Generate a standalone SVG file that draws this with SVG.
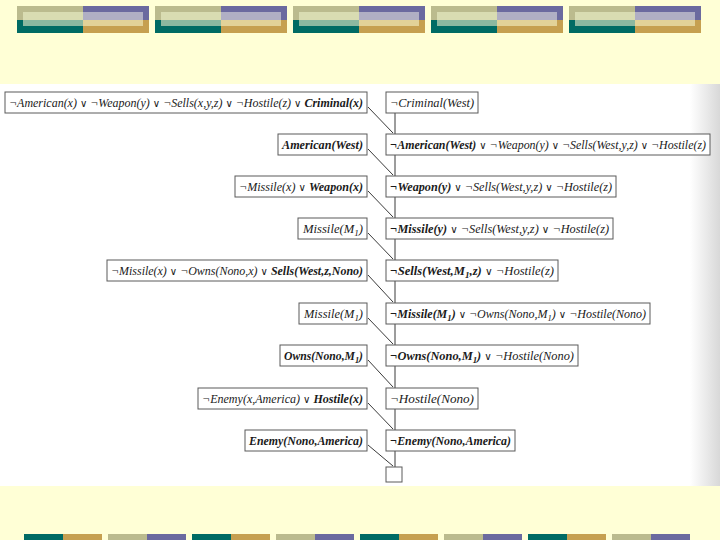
<svg xmlns="http://www.w3.org/2000/svg" width="720" height="540" viewBox="0 0 720 540">
<defs>
<style>
.box{fill:#ffffff;stroke:#5a5a5a;stroke-width:1}
.t{font-family:"Liberation Serif","Times New Roman",serif;font-style:italic;font-size:12.5px;fill:#1a1a1a}
.b{font-weight:bold}
.s{font-size:9px}
.o{font-family:"DejaVu Serif",serif;font-style:normal;font-weight:normal;font-size:10.5px}
.ln{stroke:#3a3a3a;stroke-width:1;fill:none}
</style>
<linearGradient id="edge" x1="0" y1="0" x2="1" y2="0">
<stop offset="0" stop-color="#ffffff"/>
<stop offset="1" stop-color="#d8d8d8"/>
</linearGradient>
<g id="topblk">
<rect x="0" y="0" width="66" height="14" fill="#bbbb8e"/>
<rect x="0" y="14" width="66" height="13" fill="#006b64"/>
<rect x="66" y="0" width="66" height="14" fill="#6b6a9f"/>
<rect x="66" y="14" width="66" height="13" fill="#c6a050"/>
<rect x="6" y="6" width="60" height="8" fill="#d9dcb2"/>
<rect x="6" y="14" width="60" height="6" fill="#8cb8a0"/>
<rect x="66" y="6" width="60" height="8" fill="#b0afc4"/>
<rect x="66" y="14" width="60" height="6" fill="#e2d298"/>
</g>
<g id="botA"><rect x="0" y="0" width="39" height="6" fill="#006b64"/><rect x="39" y="0" width="39" height="6" fill="#c6a050"/></g>
<g id="botB"><rect x="0" y="0" width="39" height="6" fill="#bbbb8e"/><rect x="39" y="0" width="39" height="6" fill="#6b6a9f"/></g>
</defs>
<rect width="720" height="540" fill="#ffffd6"/>
<g id="banner-top">
<use href="#topblk" x="17" y="6"/>
<use href="#topblk" x="155" y="6"/>
<use href="#topblk" x="293" y="6"/>
<use href="#topblk" x="431" y="6"/>
<use href="#topblk" x="569" y="6"/>
</g>
<g id="banner-bottom">
<use href="#botA" x="24" y="534"/>
<use href="#botB" x="108" y="534"/>
<use href="#botA" x="192" y="534"/>
<use href="#botB" x="276" y="534"/>
<use href="#botA" x="360" y="534"/>
<use href="#botB" x="444" y="534"/>
<use href="#botA" x="528" y="534"/>
<use href="#botB" x="612" y="534"/>
</g>
<rect x="0" y="84" width="720" height="402" fill="#ffffff"/>
<rect x="690" y="84" width="30" height="402" fill="url(#edge)"/>

<g id="connectors">
<line class="ln" x1="395" y1="113" x2="395" y2="134"/>
<line class="ln" x1="395" y1="155" x2="395" y2="176"/>
<line class="ln" x1="395" y1="197" x2="395" y2="218"/>
<line class="ln" x1="395" y1="239" x2="395" y2="260"/>
<line class="ln" x1="395" y1="281" x2="395" y2="303"/>
<line class="ln" x1="395" y1="324" x2="395" y2="345"/>
<line class="ln" x1="395" y1="366" x2="395" y2="388"/>
<line class="ln" x1="395" y1="409" x2="395" y2="430"/>
<line class="ln" x1="395" y1="451" x2="395" y2="467"/>
<line class="ln" x1="368" y1="107" x2="393" y2="133"/>
<line class="ln" x1="368" y1="149" x2="393" y2="175"/>
<line class="ln" x1="368" y1="191" x2="393" y2="217"/>
<line class="ln" x1="368" y1="233" x2="393" y2="259"/>
<line class="ln" x1="368" y1="275" x2="393" y2="302"/>
<line class="ln" x1="368" y1="318" x2="393" y2="344"/>
<line class="ln" x1="368" y1="360" x2="393" y2="387"/>
<line class="ln" x1="368" y1="403" x2="393" y2="429"/>
<line class="ln" x1="368" y1="445" x2="393" y2="466"/>
</g>

<g id="L0"><rect class="box" x="5" y="92" width="362" height="21"/>
<text class="t" x="9" y="107" textLength="354" lengthAdjust="spacingAndGlyphs">¬American(x) <tspan class="o">∨</tspan> ¬Weapon(y) <tspan class="o">∨</tspan> ¬Sells(x,y,z) <tspan class="o">∨</tspan> ¬Hostile(z) <tspan class="o">∨</tspan> <tspan class="b">Criminal(x)</tspan></text></g>
<g id="R0"><rect class="box" x="386" y="92" width="92" height="21"/>
<text class="t" x="390" y="107" textLength="84" lengthAdjust="spacingAndGlyphs">¬Criminal(West)</text></g>

<g id="L1"><rect class="box" x="278" y="134" width="89" height="21"/>
<text class="t b" x="282" y="149" textLength="81" lengthAdjust="spacingAndGlyphs">American(West)</text></g>
<g id="R1"><rect class="box" x="386" y="134" width="324" height="21"/>
<text class="t" x="390" y="149" textLength="316" lengthAdjust="spacingAndGlyphs"><tspan class="b">¬American(West)</tspan> <tspan class="o">∨</tspan> ¬Weapon(y) <tspan class="o">∨</tspan> ¬Sells(West,y,z) <tspan class="o">∨</tspan> ¬Hostile(z)</text></g>

<g id="L2"><rect class="box" x="235" y="176" width="132" height="21"/>
<text class="t" x="239" y="191" textLength="124" lengthAdjust="spacingAndGlyphs">¬Missile(x) <tspan class="o">∨</tspan> <tspan class="b">Weapon(x)</tspan></text></g>
<g id="R2"><rect class="box" x="386" y="176" width="230" height="21"/>
<text class="t" x="390" y="191" textLength="222" lengthAdjust="spacingAndGlyphs"><tspan class="b">¬Weapon(y)</tspan> <tspan class="o">∨</tspan> ¬Sells(West,y,z) <tspan class="o">∨</tspan> ¬Hostile(z)</text></g>

<g id="L3"><rect class="box" x="298" y="218" width="69" height="21"/>
<text class="t" x="303" y="233" textLength="60" lengthAdjust="spacingAndGlyphs">Missile(M<tspan class="s" dy="3">1</tspan><tspan dy="-3">)</tspan></text></g>
<g id="R3"><rect class="box" x="386" y="218" width="227" height="21"/>
<text class="t" x="390" y="233" textLength="219" lengthAdjust="spacingAndGlyphs"><tspan class="b">¬Missile(y)</tspan> <tspan class="o">∨</tspan> ¬Sells(West,y,z) <tspan class="o">∨</tspan> ¬Hostile(z)</text></g>

<g id="L4"><rect class="box" x="107" y="260" width="260" height="21"/>
<text class="t" x="111" y="275" textLength="252" lengthAdjust="spacingAndGlyphs">¬Missile(x) <tspan class="o">∨</tspan> ¬Owns(Nono,x) <tspan class="o">∨</tspan> <tspan class="b">Sells(West,z,Nono)</tspan></text></g>
<g id="R4"><rect class="box" x="386" y="260" width="172" height="21"/>
<text class="t" x="390" y="275" textLength="164" lengthAdjust="spacingAndGlyphs"><tspan class="b">¬Sells(West,M<tspan class="s" dy="3">1</tspan><tspan dy="-3">,z)</tspan></tspan> <tspan class="o">∨</tspan> ¬Hostile(z)</text></g>

<g id="L5"><rect class="box" x="299" y="303" width="68" height="21"/>
<text class="t" x="304" y="318" textLength="59" lengthAdjust="spacingAndGlyphs">Missile(M<tspan class="s" dy="3">1</tspan><tspan dy="-3">)</tspan></text></g>
<g id="R5"><rect class="box" x="386" y="303" width="264" height="21"/>
<text class="t" x="390" y="318" textLength="256" lengthAdjust="spacingAndGlyphs"><tspan class="b">¬Missile(M<tspan class="s" dy="3">1</tspan><tspan dy="-3">)</tspan></tspan> <tspan class="o">∨</tspan> ¬Owns(Nono,M<tspan class="s" dy="3">1</tspan><tspan dy="-3">) </tspan><tspan class="o">∨</tspan> ¬Hostile(Nono)</text></g>

<g id="L6"><rect class="box" x="280" y="345" width="87" height="21"/>
<text class="t b" x="284" y="360" textLength="79" lengthAdjust="spacingAndGlyphs">Owns(Nono,M<tspan class="s" dy="3">1</tspan><tspan dy="-3">)</tspan></text></g>
<g id="R6"><rect class="box" x="386" y="345" width="192" height="21"/>
<text class="t" x="390" y="360" textLength="184" lengthAdjust="spacingAndGlyphs"><tspan class="b">¬Owns(Nono,M<tspan class="s" dy="3">1</tspan><tspan dy="-3">)</tspan></tspan> <tspan class="o">∨</tspan> ¬Hostile(Nono)</text></g>

<g id="L7"><rect class="box" x="198" y="388" width="169" height="21"/>
<text class="t" x="202" y="403" textLength="161" lengthAdjust="spacingAndGlyphs">¬Enemy(x,America) <tspan class="o">∨</tspan> <tspan class="b">Hostile(x)</tspan></text></g>
<g id="R7"><rect class="box" x="386" y="388" width="92" height="21"/>
<text class="t" x="390" y="403" textLength="84" lengthAdjust="spacingAndGlyphs">¬Hostile(Nono)</text></g>

<g id="L8"><rect class="box" x="245" y="430" width="122" height="21"/>
<text class="t b" x="249" y="445" textLength="114" lengthAdjust="spacingAndGlyphs">Enemy(Nono,America)</text></g>
<g id="R8"><rect class="box" x="386" y="430" width="129" height="21"/>
<text class="t b" x="390" y="445" textLength="121" lengthAdjust="spacingAndGlyphs">¬Enemy(Nono,America)</text></g>

<g id="empty"><rect class="box" x="386" y="467" width="16" height="15"/></g>
</svg>
